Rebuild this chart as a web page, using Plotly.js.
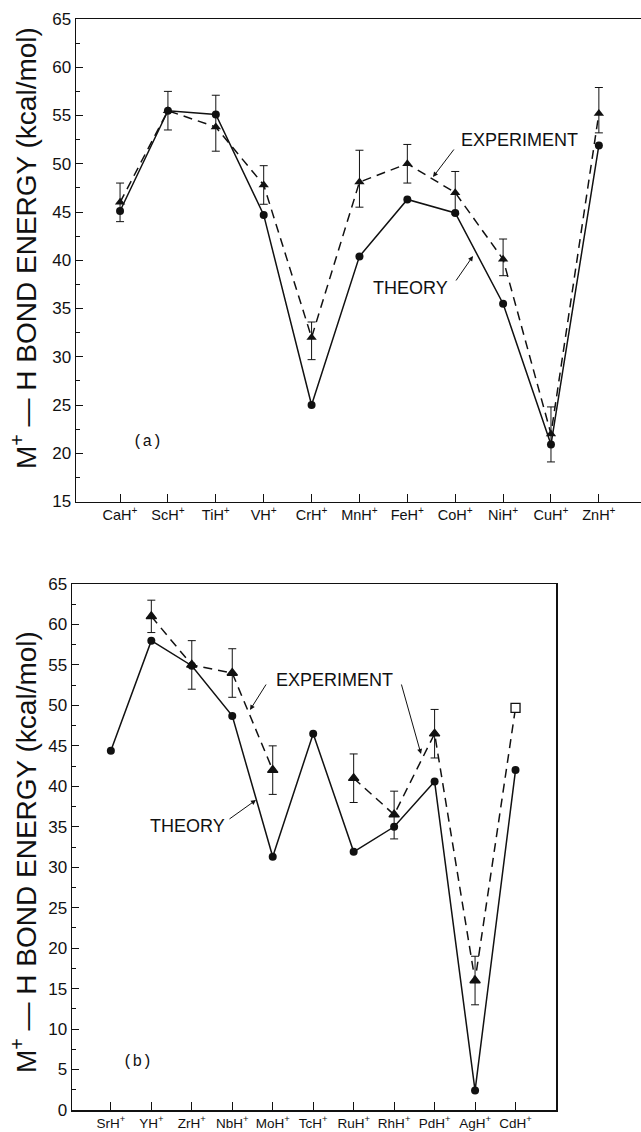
<!DOCTYPE html>
<html>
<head>
<meta charset="utf-8">
<script src="https://cdn.plot.ly/plotly-3.0.1.min.js"></script>
<style>html,body{margin:0;padding:0;background:#fff;}#chart{width:641px;height:1132px;}</style>
</head>
<body>
<div id="chart"></div>
<script>
// ---- Panel (a): first-row transition metal hydride ions ----
var catsA = ["CaH+", "ScH+", "TiH+", "VH+", "CrH+", "MnH+", "FeH+", "CoH+", "NiH+", "CuH+", "ZnH+"];
var theoryA = [45.1, 55.5, 55.1, 44.7, 25.0, 40.4, 46.3, 44.9, 35.5, 20.9, 51.9];
var experimentA = [46.0, 55.5, 53.8, 47.8, 32.0, 48.1, 50.0, 47.0, 40.1, 22.0, 55.2];
var expA_plus = [2.0, 2.0, 3.3, 2.0, 1.6, 3.3, 2.0, 2.2, 2.1, 2.8, 2.7];
var expA_minus = [2.0, 2.0, 2.5, 2.0, 2.3, 2.6, 2.0, 2.2, 1.7, 2.9, 2.0];

// ---- Panel (b): second-row transition metal hydride ions ----
var catsB = ["SrH+", "YH+", "ZrH+", "NbH+", "MoH+", "TcH+", "RuH+", "RhH+", "PdH+", "AgH+", "CdH+"];
var theoryB = [44.4, 58.0, 54.9, 48.7, 31.3, 46.5, 31.9, 35.0, 40.6, 2.4, 42.0];
var experimentB = [null, 61.0, 55.0, 54.0, 42.0, null, 41.0, 36.5, 46.5, 16.0, 49.7];
var expB_plus = [null, 2.0, 3.0, 3.0, 3.0, null, 3.0, 2.9, 3.0, 3.0, 0];
var expB_minus = [null, 2.0, 3.0, 3.0, 3.0, null, 3.0, 3.0, 3.0, 3.0, 0];
var expB_symbols = ["triangle-up", "triangle-up", "triangle-up", "triangle-up", "triangle-up", "triangle-up", "triangle-up", "triangle-up", "triangle-up", "triangle-up", "square"];
var expB_fill = ["#111", "#111", "#111", "#111", "#111", "#111", "#111", "#111", "#111", "#111", "#fff"];

function idx(arr) { return arr.map(function (_, i) { return i; }); }
function supLabels(arr) { return arr.map(function (s) { return s.replace("+", "<sup>+</sup>"); }); }

var W = 641, H = 1132;
var black = "#111";

var traces = [
  {
    x: idx(catsA), y: theoryA, xaxis: "x", yaxis: "y", mode: "lines+markers", name: "THEORY",
    line: { color: black, width: 1.5 },
    marker: { symbol: "circle", size: 8, color: black }
  },
  {
    x: idx(catsA), y: experimentA, xaxis: "x", yaxis: "y", mode: "lines+markers", name: "EXPERIMENT",
    line: { color: black, width: 1.5, dash: "9px,6px" },
    marker: { symbol: "triangle-up", size: 9, color: black },
    error_y: { type: "data", symmetric: false, array: expA_plus, arrayminus: expA_minus, color: black, thickness: 1, width: 4 }
  },
  {
    x: idx(catsB), y: theoryB, xaxis: "x2", yaxis: "y2", mode: "lines+markers", name: "THEORY",
    line: { color: black, width: 1.5 },
    marker: { symbol: "circle", size: 8, color: black }
  },
  {
    x: idx(catsB), y: experimentB, xaxis: "x2", yaxis: "y2", mode: "lines+markers", name: "EXPERIMENT",
    connectgaps: false,
    line: { color: black, width: 1.5, dash: "9px,6px" },
    marker: { symbol: expB_symbols, size: 9, color: expB_fill, line: { color: black, width: 1.3 } },
    error_y: { type: "data", symmetric: false, array: expB_plus, arrayminus: expB_minus, color: black, thickness: 1, width: 4 }
  }
];

var axisFont = { family: "Liberation Sans, Arial, sans-serif", size: 17, color: black };
var xFontA = { family: "Liberation Sans, Arial, sans-serif", size: 14.5, color: black };
var xFontB = { family: "Liberation Sans, Arial, sans-serif", size: 13.5, color: black };

function xAxis(domain, range, cats, anchor, font) {
  return {
    domain: domain, range: range, anchor: anchor,
    tickmode: "array", tickvals: idx(cats), ticktext: supLabels(cats),
    ticks: "inside", ticklen: 8, tickwidth: 1, tickcolor: black,
    showline: true, linecolor: black, linewidth: 1.5, mirror: true,
    showgrid: false, zeroline: false, tickfont: font, fixedrange: true
  };
}
function yAxis(domain, range, anchor, mirror) {
  return {
    domain: domain, range: range, anchor: anchor,
    tickmode: "linear", tick0: 0, dtick: 5,
    ticks: "inside", ticklen: 7, tickwidth: 1, tickcolor: black,
    minor: { dtick: 2.5, tick0: 0, ticks: "inside", ticklen: 4, tickwidth: 1, tickcolor: black, showgrid: false },
    showline: true, linecolor: black, linewidth: 1.5, mirror: mirror,
    showgrid: false, zeroline: false, tickfont: axisFont, fixedrange: true
  };
}

function px(x) { return x / W; }
function py(y) { return 1 - y / H; }

var labelFont = { family: "Liberation Sans, Arial, sans-serif", size: 18, color: black };
var titleFont = { family: "Liberation Sans, Arial, sans-serif", size: 28, color: black };
var tagFont = { family: "Liberation Mono, DejaVu Sans Mono, monospace", size: 16, color: black };

function arrow(hx, hy, tx, ty) {
  return {
    xref: "paper", yref: "paper", x: px(hx), y: py(hy), axref: "pixel", ayref: "pixel",
    ax: tx - hx, ay: ty - hy, text: "", showarrow: true, arrowhead: 2, arrowsize: 1,
    arrowwidth: 1, arrowcolor: black, standoff: 0, startstandoff: 0
  };
}
function label(x, y, text, font, extra) {
  var a = { xref: "paper", yref: "paper", x: px(x), y: py(y), text: text, showarrow: false, font: font, xanchor: "center", yanchor: "middle" };
  if (extra) for (var k in extra) a[k] = extra[k];
  return a;
}

var yTitle = "M<sup>+</sup> — H BOND ENERGY (kcal/mol)";

var layout = {
  width: W, height: H,
  margin: { l: 0, r: 0, t: 0, b: 0 },
  paper_bgcolor: "#fff", plot_bgcolor: "#fff",
  showlegend: false,
  xaxis: xAxis([px(76), 1], [-0.92, 10.88], catsA, "y", xFontA),
  yaxis: yAxis([py(501.5), py(19)], [15, 65], "x", false),
  xaxis2: xAxis([px(72), px(556)], [-0.96, 11.0], catsB, "y2", xFontB),
  yaxis2: yAxis([py(1110), py(584)], [0, 65], "x2", true),
  annotations: [
    label(24, 248, yTitle, titleFont, { textangle: -90 }),
    label(24, 852, yTitle, titleFont, { textangle: -90 }),
    label(519, 140, "EXPERIMENT", labelFont),
    arrow(433, 177, 455, 148),
    label(410, 288, "THEORY", labelFont),
    arrow(473, 256, 455, 282),
    label(147, 442, "(a)", tagFont),
    label(334, 680, "EXPERIMENT", labelFont),
    arrow(250, 710, 267, 683),
    arrow(421, 754, 401, 683),
    label(187, 826, "THEORY", labelFont),
    arrow(256, 800, 228, 820),
    label(137, 1062, "(b)", tagFont)
  ]
};

Plotly.newPlot("chart", traces, layout, { staticPlot: true, displayModeBar: false });
</script>
</body>
</html>
